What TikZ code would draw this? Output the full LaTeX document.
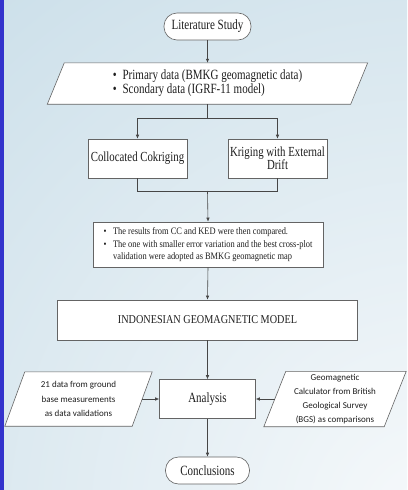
\documentclass[tikz,border=0pt]{standalone}
\usepackage{fontspec}
\setmainfont{Liberation Serif}[FakeStretch=0.78]
\newfontfamily\narrowb{Liberation Serif}[FakeStretch=0.85]
\newfontfamily\calfont{Carlito}
\usetikzlibrary{arrows.meta,calc}
\pgfdeclarelayer{bglayer}
\pgfdeclarelayer{shapelayer}
\pgfsetlayers{bglayer,shapelayer,main}
\definecolor{bgbase}{RGB}{200,221,232}
\definecolor{bglight}{RGB}{246,249,251}
\definecolor{barblue}{RGB}{51,51,204}
\definecolor{linegray}{RGB}{70,70,70}
\definecolor{boxgray}{RGB}{100,100,100}
\definecolor{txt}{RGB}{30,30,30}
\begin{document}
\begin{tikzpicture}[x=1pt,y=-1pt,
  terminal/.style={draw=boxgray, fill=white, line width=0.6pt, rounded corners=13pt,
    minimum width=87pt, minimum height=27pt, inner sep=0pt, text=txt,
    font=\fontsize{14.1}{16}\selectfont},
  box/.style={draw=boxgray, fill=white, line width=0.6pt, inner sep=0pt, align=center, text=txt},
  paranode/.style={inner sep=0pt, align=center, text=txt},
  parashape/.style={draw=boxgray, fill=white, line width=0.6pt},
  arr/.style={-{Latex[length=4pt,width=3.5pt]}, draw=linegray, line width=0.6pt},
  ln/.style={draw=linegray, line width=0.6pt}]
\useasboundingbox (0,0) rectangle (407,490);
\begin{pgfonlayer}{bglayer}
  \fill[bgbase] (0,0) rectangle (407,490);
  \begin{scope}
    \clip (0,0) rectangle (407,490);
    \shade[inner color=bglight, outer color=bgbase] (430,520) circle (760);
  \end{scope}
  \fill[barblue] (0,0) rectangle (3.5,490);
\end{pgfonlayer}

\node[terminal] (lit) at (207.5,26.5) {Literature Study};

\node[paranode, minimum width=303pt, minimum height=41pt] (prim) at (207.5,83.5)
  {\fontsize{14.1}{14}\selectfont\begin{tabular}{@{}l@{\hspace{6pt}}l@{}}
   \textbullet & Primary data (BMKG geomagnetic data)\\
   \textbullet & Scondary data (IGRF-11 model)
   \end{tabular}};

\node[box, minimum width=99pt, minimum height=39pt, font=\fontsize{13.85}{13}\selectfont] (cc) at (137.5,158.5) {Collocated Cokriging};
\node[box, minimum width=99pt, minimum height=39pt, font=\fontsize{13.85}{13}\selectfont] (ked) at (277.5,158.5) {Kriging with External\\Drift};

\node[box, minimum width=230pt, minimum height=45pt] (res) at (208,244.5)
  {\narrowb\fontsize{9.9}{12.5}\selectfont\begin{tabular}{@{}l@{\hspace{6.5pt}}l@{}}
   \textbullet & The results from CC and KED were then compared.\\
   \textbullet & The one with smaller error variation and the best cross-plot\\
   & validation were adopted as BMKG geomagnetic map
   \end{tabular}};

\node[box, minimum width=300pt, minimum height=40pt, font=\narrowb\fontsize{12}{13}\selectfont] (igm) at (207.5,320) {INDONESIAN GEOMAGNETIC MODEL};

\node[box, minimum width=96pt, minimum height=39pt, font=\fontsize{14.1}{16}\selectfont] (ana) at (207.5,399) {Analysis};

\node[paranode, minimum width=127pt, minimum height=54pt, font=\calfont\fontsize{9}{14.2}\selectfont] (left) at (78.5,399)
  {21 data from ground\\base measurements\\as data validations};
\node[paranode, minimum width=120pt, minimum height=55pt, font=\calfont\fontsize{9}{14.2}\selectfont] (right) at (335,399)
  {Geomagnetic\\Calculator from British\\Geological Survey\\(BGS) as comparisons};

\node[terminal, minimum width=84pt] (conc) at (207.5,470.5) {Conclusions};

\begin{pgfonlayer}{shapelayer}
  \draw[parashape] ([xshift=8.5pt]prim.north west) -- ([xshift=8.5pt]prim.north east)
    -- ([xshift=-8.5pt]prim.south east) -- ([xshift=-8.5pt]prim.south west) -- cycle;
  \draw[parashape] ([xshift=10pt]left.north west) -- ([xshift=10pt]left.north east)
    -- ([xshift=-10pt]left.south east) -- ([xshift=-10pt]left.south west) -- cycle;
  \draw[parashape] ([xshift=11pt]right.north west) -- ([xshift=11pt]right.north east)
    -- ([xshift=-11pt]right.south east) -- ([xshift=-11pt]right.south west) -- cycle;
\end{pgfonlayer}

\coordinate (j1) at (207.5,118);
\coordinate (j2) at (207.5,191);
\draw[arr] (lit.south) -- (prim.north);
\draw[ln] (prim.south) -- (j1);
\draw[arr] (j1) -| (cc.north);
\draw[arr] (j1) -| (ked.north);
\draw[ln] (cc.south) |- (j2);
\draw[ln] (ked.south) |- (j2);
\draw[arr] (j2) -- (res.north);
\draw[arr] (res.south) -- (igm.north);
\draw[arr] (igm.south) -- (ana.north);
\draw[arr] (left.east) -- (ana.west);
\draw[arr] (right.west) -- (ana.east);
\draw[arr] (ana.south) -- (conc.north);
\end{tikzpicture}
\end{document}
